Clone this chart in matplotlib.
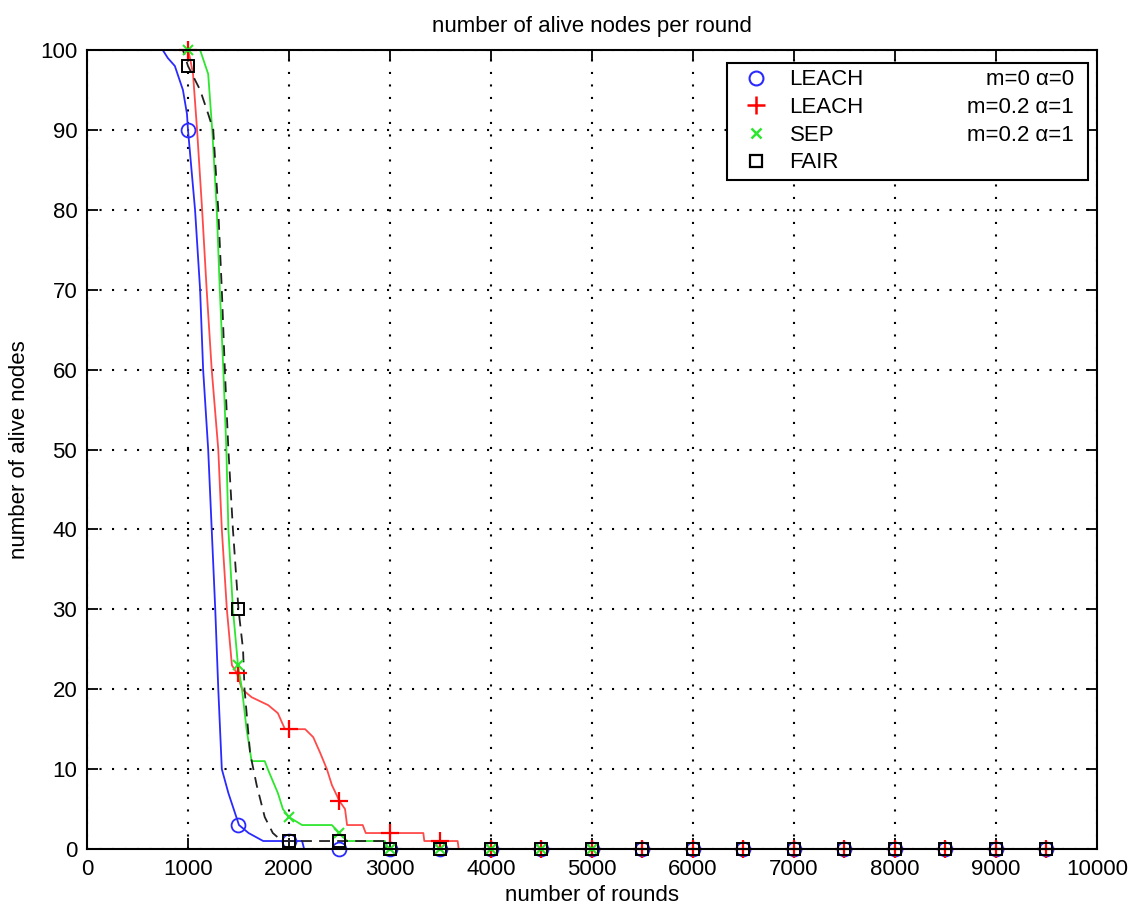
import matplotlib
matplotlib.use('Agg')
import matplotlib.pyplot as plt
from matplotlib.lines import Line2D

plt.rcParams['font.family'] = ['Liberation Sans', 'DejaVu Sans']

# read-off curves (round, alive nodes)
leach0_rounds = [0, 750, 800, 870, 950, 990, 1000, 1070, 1120, 1150, 1200, 1235, 1270, 1300, 1335, 1400, 1505, 1600, 1745, 2130, 2150, 10000]
leach0_alive = [100, 100, 99, 98, 95, 92, 90, 80, 70, 60, 50, 40, 30, 20, 10, 7, 3, 2, 1, 1, 0, 0]

leach1_rounds = [0, 1000, 1020, 1050, 1090, 1140, 1185, 1235, 1300, 1335, 1385, 1435, 1485, 1535, 1630, 1795, 1890, 1960,
                 2160, 2240, 2310, 2375, 2425, 2500, 2555, 2575, 2730, 2760, 3330, 3340, 3670, 3680, 10000]
leach1_alive = [100, 100, 99, 97, 90, 80, 70, 60, 50, 40, 30, 23, 22, 20, 19, 18, 17, 15,
                15, 14, 12, 10, 8, 6, 5, 3, 3, 2, 2, 1, 1, 0, 0]

sep_rounds = [0, 1120, 1200, 1240, 1285, 1315, 1350, 1380, 1400, 1445, 1495, 1535, 1580, 1630, 1760, 1790, 1890, 1940,
              2000, 2130, 2425, 2500, 2575, 2950, 2960, 5000]
sep_alive = [100, 100, 97, 90, 80, 70, 60, 50, 40, 30, 23, 20, 15, 11, 11, 10, 7, 5,
             4, 3, 3, 2, 1, 1, 0, 0]

fair_rounds = [0, 950, 1000, 1120, 1200, 1250, 1300, 1335, 1365, 1400, 1445, 1500, 1545, 1560, 1615, 1680, 1760, 1840,
               1930, 2950, 2960, 10000]
fair_alive = [100, 100, 98, 95, 92, 90, 80, 70, 60, 50, 40, 30, 25, 20, 12, 8, 4, 2,
              1, 1, 0, 0]

# marker samples every 500 rounds
mark_rounds = [1000, 1500, 2000, 2500, 3000, 3500, 4000, 4500, 5000, 5500, 6000, 6500, 7000, 7500, 8000, 8500, 9000, 9500]
leach0_marks = [90, 3, 1, 0, 0, 0, 0, 0, 0, 0, 0, 0, 0, 0, 0, 0, 0, 0]
leach1_marks = [100, 22, 15, 6, 2, 1, 0, 0, 0, 0, 0, 0, 0, 0, 0, 0, 0, 0]
sep_mark_rounds = [1000, 1500, 2000, 2500, 3000, 3500, 4000, 4500, 5000]
sep_marks = [100, 23, 4, 2, 0, 0, 0, 0, 0]
fair_marks = [98, 30, 1, 1, 0, 0, 0, 0, 0, 0, 0, 0, 0, 0, 0, 0, 0, 0]

names = ['LEACH', 'LEACH', 'SEP', 'FAIR']
params = ['m=0 \u03b1=0', 'm=0.2 \u03b1=1', 'm=0.2 \u03b1=1']
x_ticks = [0, 1000, 2000, 3000, 4000, 5000, 6000, 7000, 8000, 9000, 10000]
y_ticks = [0, 10, 20, 30, 40, 50, 60, 70, 80, 90, 100]

fig = plt.figure(figsize=(11.37, 9.06), dpi=100)
ax = fig.add_axes([0.0765, 0.0629, 0.8883, 0.8819])

fs = 16
blue, red, green, black = '#2a2aff', '#ff4a4a', '#2ee62e', '#222222'

ax.plot(leach0_rounds, leach0_alive, color=blue, lw=1.3, clip_on=False)
ax.plot(leach1_rounds, leach1_alive, color=red, lw=1.3, clip_on=False)
ax.plot(sep_rounds, sep_alive, color=green, lw=1.3, clip_on=False)
ax.plot(fair_rounds, fair_alive, color=black, lw=1.3, dashes=(6, 4), clip_on=False)

ax.plot(mark_rounds, leach0_marks, 'o', color=blue, mfc='none', ms=10, mew=1.3, clip_on=False)
ax.plot(mark_rounds, leach1_marks, '+', color='red', ms=13, mew=1.6, clip_on=False)
ax.plot(sep_mark_rounds, sep_marks, 'x', color=green, ms=7, mew=1.5, clip_on=False)
ax.plot(mark_rounds, fair_marks, 's', color='black', mfc='none', ms=9, mew=1.4, clip_on=False)

ax.set_xlim(0, 10000)
ax.set_ylim(0, 100)
ax.set_xticks(x_ticks)
ax.set_yticks(y_ticks)
ax.tick_params(direction='in', length=8, width=1.3, top=True, right=True, labelsize=fs, pad=7)
for s in ax.spines.values():
    s.set_linewidth(1.5)
ax.grid(True, color='black', linestyle=(0, (1, 5)), linewidth=1.5)

ax.set_title('number of alive nodes per round', fontsize=fs, pad=13)
ax.set_xlabel('number of rounds', fontsize=fs, labelpad=4)
ax.set_ylabel('number of alive nodes', fontsize=fs, labelpad=7)

handles = [
    Line2D([], [], ls='none', marker='o', color=blue, mfc='none', ms=10, mew=1.5),
    Line2D([], [], ls='none', marker='+', color='red', ms=13, mew=1.8),
    Line2D([], [], ls='none', marker='x', color=green, ms=7, mew=1.8),
    Line2D([], [], ls='none', marker='s', color='black', mfc='none', ms=9, mew=1.6),
]
leg = ax.legend(handles, names, loc='upper left', bbox_to_anchor=(0.634, 0.837, 0.357, 0.147),
                mode='expand', borderaxespad=0, fontsize=fs, fancybox=False, framealpha=1,
                edgecolor='black', labelspacing=0.3, borderpad=0.3, handlelength=2.0, handletextpad=0.5)
leg.get_frame().set_linewidth(1.5)

# right-hand parameter text on the same rows as the legend labels
fig.canvas.draw()
inv = ax.transAxes.inverted()
for txt, lab in zip(params, leg.get_texts()):
    bb = lab.get_window_extent()
    yy = inv.transform((0, (bb.y0 + bb.y1) / 2))[1]
    ax.text(0.977, yy, txt, transform=ax.transAxes, ha='right', va='center', fontsize=fs, zorder=10)

fig.savefig('out.png', dpi=100)
